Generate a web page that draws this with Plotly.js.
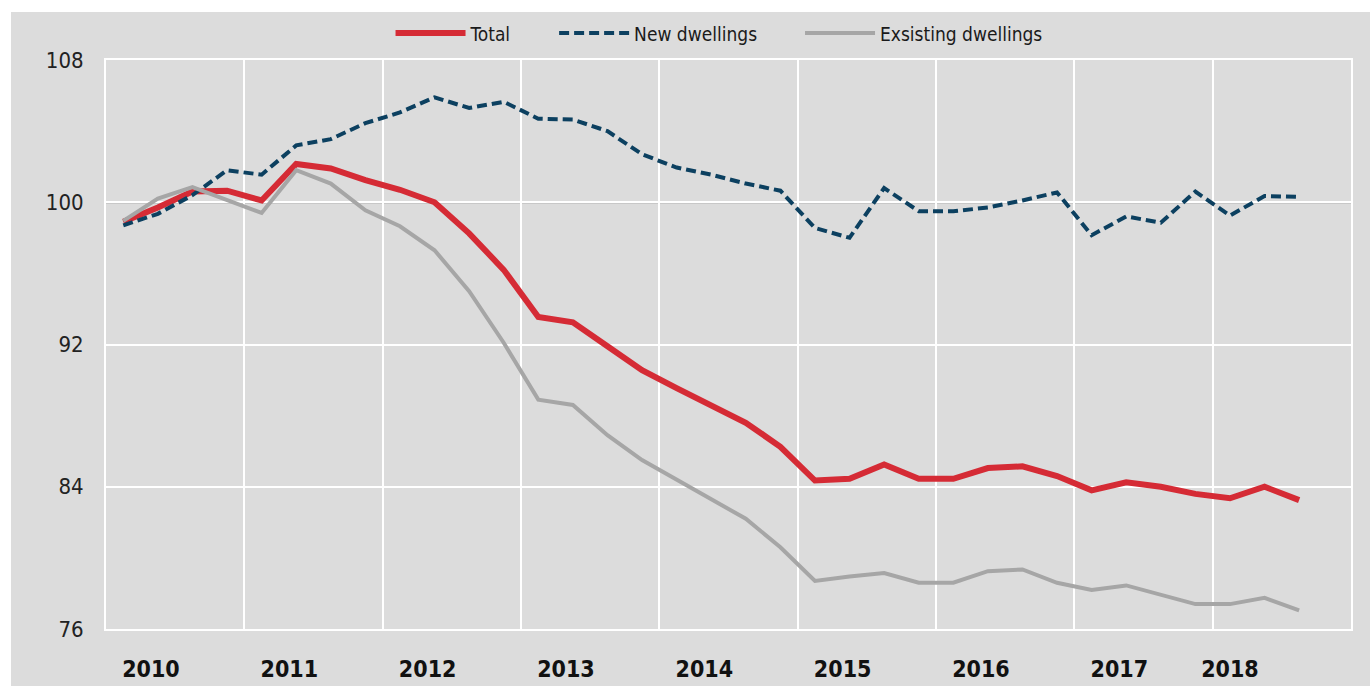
<!DOCTYPE html>
<html>
<head>
<meta charset="utf-8">
<script src="https://cdn.plot.ly/plotly-3.0.1.min.js"></script>
<style>
  html, body { margin: 0; padding: 0; background: #ffffff; width: 1370px; height: 686px; overflow: hidden; }
  #chart { position: absolute; left: 11px; top: 12px; width: 1359px; height: 674px; }
</style>
</head>
<body>
<div id="chart"></div>
<script>
// Quarterly index values, 2010Q1 .. 2018Q3
const quarters = ["2010Q1","2010Q2","2010Q3","2010Q4","2011Q1","2011Q2","2011Q3","2011Q4",
  "2012Q1","2012Q2","2012Q3","2012Q4","2013Q1","2013Q2","2013Q3","2013Q4",
  "2014Q1","2014Q2","2014Q3","2014Q4","2015Q1","2015Q2","2015Q3","2015Q4",
  "2016Q1","2016Q2","2016Q3","2016Q4","2017Q1","2017Q2","2017Q3","2017Q4",
  "2018Q1","2018Q2","2018Q3"];
const total = [98.9, 99.7, 100.6, 100.65, 100.1, 102.15, 101.9, 101.25, 100.7, 100.0,
  98.25, 96.2, 93.55, 93.25, 91.9, 90.55, 89.55, 88.55, 87.6, 86.25,
  84.35, 84.45, 85.25, 84.45, 84.45, 85.05, 85.15, 84.6, 83.8, 84.25,
  84.0, 83.6, 83.35, 84.0, 83.25];
const newDwellings = [98.7, 99.35, 100.4, 101.8, 101.55, 103.2, 103.55, 104.45, 105.05, 105.9,
  105.3, 105.65, 104.7, 104.65, 104.0, 102.7, 101.95, 101.55, 101.05, 100.65,
  98.55, 98.0, 100.8, 99.5, 99.5, 99.7, 100.1, 100.55, 98.15, 99.2,
  98.85, 100.6, 99.25, 100.35, 100.3];
const existingDwellings = [98.95, 100.2, 100.85, 100.1, 99.4, 101.8, 101.05, 99.55, 98.65, 97.3,
  95.0, 92.1, 88.9, 88.6, 86.9, 85.5, 84.4, 83.3, 82.2, 80.6,
  78.7, 78.95, 79.15, 78.6, 78.6, 79.25, 79.35, 78.6, 78.2, 78.45,
  77.95, 77.4, 77.4, 77.75, 77.05];
const seriesNames = ["Total", "New dwellings", "Exsisting dwellings"];
const yearLabels = ["2010","2011","2012","2013","2014","2015","2016","2017","2018"];
const yearLabelPos = [0.8, 4.8, 8.8, 12.8, 16.8, 20.8, 24.8, 28.8, 32.0];
const yearBoundaries = [3.5, 7.5, 11.5, 15.5, 19.5, 23.5, 27.5, 31.5];
const yTicks = [76, 84, 92, 100, 108];

const xIdx = quarters.map((q, i) => i);
const FONT = '"Liberation Sans Narrow", "Arial Narrow", "DejaVu Sans Condensed", sans-serif';
const NB = '\u00a0';
const pad = n => NB.repeat(n);

const traces = [
  { x: xIdx, y: total, name: seriesNames[0] + pad(7), type: 'scatter', mode: 'lines',
    line: { color: '#d52b35', width: 6 } },
  { x: xIdx, y: newDwellings, name: seriesNames[1] + pad(7), type: 'scatter', mode: 'lines',
    line: { color: '#0c4060', width: 4, dash: '10px,5px' } },
  { x: xIdx, y: existingDwellings, name: seriesNames[2], type: 'scatter', mode: 'lines',
    line: { color: '#a6a6a6', width: 4 } }
];

const layout = {
  width: 1359, height: 674,
  paper_bgcolor: '#dcdcdc', plot_bgcolor: '#dcdcdc',
  margin: { l: 95, r: 19, t: 48, b: 57, autoexpand: false },
  font: { family: FONT, color: '#1a1a1a' },
  showlegend: true,
  legend: { orientation: 'h', x: 0.4924, xanchor: 'center', y: 1.047, yanchor: 'middle',
    font: { family: FONT, size: 19, color: '#1a1a1a' }, itemwidth: 70, bgcolor: 'rgba(0,0,0,0)' },
  xaxis: {
    range: [-0.5, 35.5], tickmode: 'array', tickvals: yearLabelPos, ticktext: yearLabels,
    showgrid: false, zeroline: false, ticks: '', ticklabelstandoff: 18,
    tickfont: { family: FONT, size: 23, color: '#111', weight: 'bold' },
    showline: true, mirror: true, linecolor: '#ffffff', linewidth: 2,
    minor: { tickmode: 'array', tickvals: yearBoundaries, showgrid: true, gridcolor: '#ffffff', gridwidth: 2, ticks: '' },
    fixedrange: true
  },
  yaxis: {
    range: [76, 108], tickmode: 'array', tickvals: yTicks,
    showgrid: true, gridcolor: '#ffffff', gridwidth: 2, zeroline: false, ticks: '',
    ticklabelstandoff: 16,
    tickfont: { family: FONT, size: 22, color: '#222' },
    showline: true, mirror: true, linecolor: '#ffffff', linewidth: 2,
    fixedrange: true
  },
  shapes: [
    { type: 'line', xref: 'paper', x0: 0, x1: 1, yref: 'y', y0: 100, y1: 100,
      line: { color: '#8c8c8c', width: 2 }, layer: 'between' }
  ]
};

Plotly.newPlot('chart', traces, layout, { displayModeBar: false, staticPlot: true });
</script>
</body>
</html>
